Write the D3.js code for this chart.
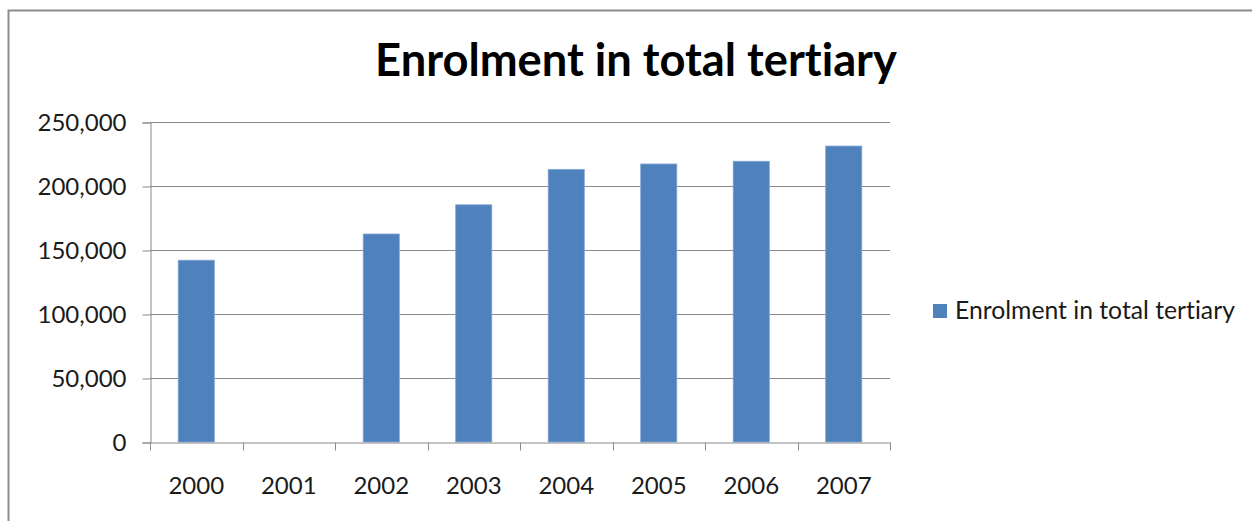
<!DOCTYPE html>
<html>
<head>
<meta charset="utf-8">
<script src="https://cdn.jsdelivr.net/npm/d3@7"></script>
<style>
  html, body { margin: 0; padding: 0; background: #fff; }
  svg { display: block; }
  text { font-family: Lato, "Open Sans", sans-serif; font-variant-ligatures: none; font-feature-settings: "liga" 0, "dlig" 0; }
</style>
</head>
<body>
<svg id="chart" width="1252" height="521"></svg>
<script>
const title = "Enrolment in total tertiary";
const seriesName = "Enrolment in total tertiary";
const categories = ["2000", "2001", "2002", "2003", "2004", "2005", "2006", "2007"];
const values = [142000, null, 162500, 185300, 213000, 217200, 219300, 231200];
const yTicks = [0, 50000, 100000, 150000, 200000, 250000];

const svg = d3.select("#chart");
const W = 1252, H = 521;
const plot = { left: 150, right: 890, top: 122, bottom: 442 };
const barColor = "#4F81BD";
const gridColor = "#8a8a8a";
const textColor = "#1a1a1a";
const labelSize = 24;

svg.append("rect").attr("x", 0).attr("y", 0).attr("width", W).attr("height", H).attr("fill", "#fff");
// outer chart border
svg.append("rect").attr("x", 8.5).attr("y", 10.5).attr("width", 1300).attr("height", 600)
  .attr("fill", "none").attr("stroke", "#8c8c8c").attr("stroke-width", 2);

const x = d3.scaleBand().domain(categories).range([plot.left, plot.right]).paddingInner(0.61).paddingOuter(0.305);
const xBand = d3.scaleBand().domain(categories).range([plot.left, plot.right]);
const y = d3.scaleLinear().domain([0, 250000]).range([plot.bottom, plot.top]);

// gridlines
svg.append("g").selectAll("line").data(yTicks.filter(d => d > 0)).join("line")
  .attr("x1", plot.left).attr("x2", plot.right)
  .attr("y1", d => Math.round(y(d)) + 0.5).attr("y2", d => Math.round(y(d)) + 0.5)
  .attr("stroke", gridColor).attr("stroke-width", 1);

// y axis
const yAxis = d3.axisLeft(y).tickValues(yTicks).tickSize(8).tickPadding(16)
  .tickFormat(d3.format(","));
const gy = svg.append("g").attr("transform", `translate(${plot.left + 0.5},0.5)`).call(yAxis);
gy.select(".domain").attr("stroke", gridColor);
gy.selectAll(".tick line").attr("stroke", gridColor);
gy.selectAll(".tick text").attr("font-size", labelSize).attr("fill", textColor)
  .attr("font-family", "Lato, 'Open Sans', sans-serif");

// bars
svg.append("g").selectAll("rect").data(categories.map((c, i) => ({ c, v: values[i] })).filter(d => d.v != null))
  .join("rect")
  .attr("x", d => x(d.c)).attr("width", x.bandwidth())
  .attr("y", d => y(d.v)).attr("height", d => y(0) - y(d.v))
  .attr("fill", barColor).attr("stroke", "#7ea3d3").attr("stroke-width", 0.8);

// x axis
const xAxis = d3.axisBottom(xBand).tickSize(0).tickPadding(34);
const gx = svg.append("g").attr("transform", `translate(0,${plot.bottom + 0.5})`).call(xAxis);
gx.select(".domain").attr("stroke", gridColor);
gx.selectAll(".tick text").attr("font-size", labelSize).attr("fill", textColor)
  .attr("font-family", "Lato, 'Open Sans', sans-serif");
// category boundary ticks
const bounds = categories.map(c => xBand(c)).concat([plot.right]);
gx.append("g").selectAll("line").data(bounds).join("line")
  .attr("x1", d => Math.round(d) + 0.5).attr("x2", d => Math.round(d) + 0.5)
  .attr("y1", 0).attr("y2", 8).attr("stroke", gridColor);

// title
const t = svg.append("text").attr("x", 636).attr("y", 76).attr("text-anchor", "middle")
  .attr("font-size", 40).attr("font-weight", "bold").attr("fill", "#000").text(title);
const tw = t.node().getComputedTextLength();
t.attr("font-size", 40 * 522 / tw);

// legend
const lg = svg.append("g");
lg.append("rect").attr("x", 933).attr("y", 304).attr("width", 14).attr("height", 14).attr("fill", barColor);
const lt = lg.append("text").attr("x", 955).attr("y", 319).attr("font-size", 22).attr("fill", textColor).text(seriesName);
const lw = lt.node().getComputedTextLength();
lt.attr("font-size", Math.min(25, 22 * 280 / lw));
</script>
</body>
</html>
